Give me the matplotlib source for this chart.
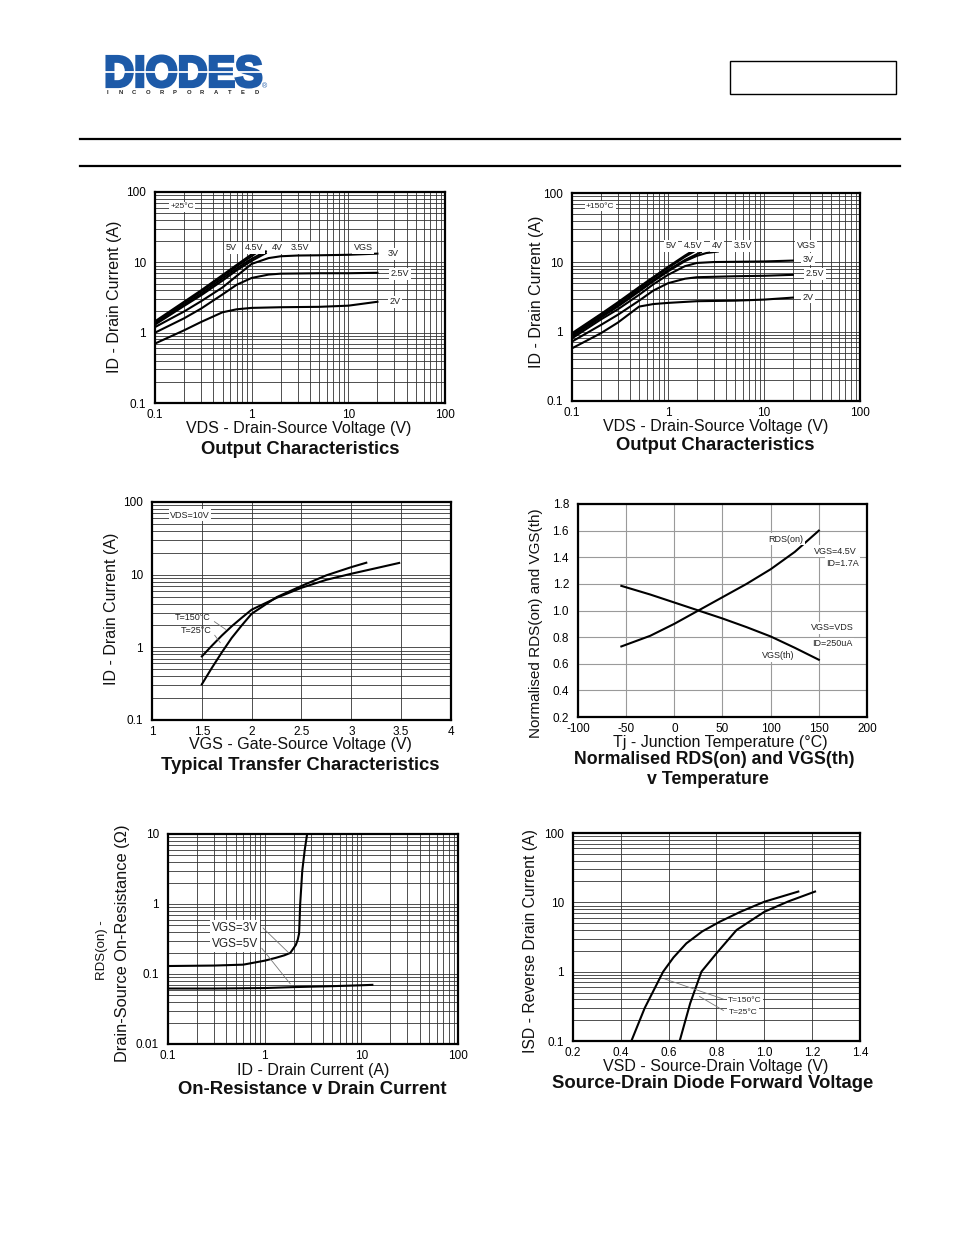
import matplotlib
matplotlib.use('Agg')
import matplotlib.pyplot as plt
import numpy as np
from matplotlib.patches import PathPatch, Rectangle
from matplotlib.textpath import TextPath
from matplotlib.font_manager import FontProperties
from matplotlib.transforms import Affine2D
from matplotlib.ticker import FixedLocator, FixedFormatter, NullFormatter

W, H = 954, 1235
plt.rcParams['font.family'] = ['Liberation Sans', 'DejaVu Sans']

# ---- Output characteristics, +25 C (VDS in V, ID in A) ----
out25_curves = {
    '2V':   ([0.1, 0.2, 0.3, 0.5, 0.7, 1, 2, 5, 10, 20],
             [0.70, 1.08, 1.42, 1.95, 2.15, 2.25, 2.3, 2.33, 2.42, 2.75]),
    '2.5V': ([0.1, 0.2, 0.3, 0.5, 0.7, 1, 1.5, 2, 5, 10, 20],
             [1.0, 1.6, 2.2, 3.5, 4.8, 6.0, 6.7, 6.9, 7.0, 7.0, 7.1]),
    '3V':   ([0.1, 0.2, 0.3, 0.5, 0.7, 1, 1.5, 2, 3, 5, 10, 20],
             [1.2, 2.0, 2.8, 4.4, 6.4, 9.5, 11.5, 12.2, 12.5, 12.6, 12.8, 13.3]),
    '3.5V': ([0.1, 0.2, 0.3, 0.5, 0.7, 1, 1.4],
             [1.3, 2.4, 3.4, 5.5, 7.7, 10.5, 13.5]),
    '4V':   ([0.1, 0.2, 0.3, 0.5, 0.7, 1, 1.4],
             [1.35, 2.5, 3.6, 5.9, 8.2, 11.2, 14.3]),
    '4.5V': ([0.1, 0.2, 0.3, 0.5, 0.7, 1, 1.15],
             [1.4, 2.65, 3.85, 6.3, 8.8, 12.2, 14.0]),
    '5V':   ([0.1, 0.2, 0.3, 0.5, 0.7, 1, 1.1],
             [1.45, 2.75, 4.0, 6.6, 9.2, 13.0, 14.5]),
}

# ---- Output characteristics, +150 C ----
out150_curves = {
    '2V':   ([0.1, 0.2, 0.3, 0.5, 0.7, 1, 2, 5, 10, 20],
             [0.575, 0.95, 1.35, 2.3, 2.5, 2.6, 2.75, 2.8, 2.9, 3.1]),
    '2.5V': ([0.1, 0.2, 0.3, 0.5, 0.7, 1, 1.5, 2, 5, 10, 20],
             [0.72, 1.25, 1.75, 2.8, 3.9, 5.0, 5.8, 6.1, 6.3, 6.4, 6.6]),
    '3V':   ([0.1, 0.2, 0.3, 0.5, 0.7, 1, 1.5, 2, 3, 10, 20],
             [0.8, 1.5, 2.1, 3.4, 4.8, 6.6, 8.8, 9.8, 10.1, 10.3, 10.6]),
    '3.5V': ([0.1, 0.2, 0.3, 0.5, 0.7, 1, 1.5, 2, 2.5, 3.3],
             [0.85, 1.6, 2.3, 3.8, 5.3, 7.4, 10.4, 12.4, 13.6, 14.3]),
    '4V':   ([0.1, 0.2, 0.3, 0.5, 0.7, 1, 1.5, 2.2],
             [0.88, 1.65, 2.4, 3.95, 5.5, 7.7, 10.8, 14.0]),
    '4.5V': ([0.1, 0.2, 0.3, 0.5, 0.7, 1, 1.5, 1.9],
             [0.92, 1.75, 2.55, 4.2, 5.9, 8.3, 12.0, 14.5]),
    '5V':   ([0.1, 0.2, 0.3, 0.5, 0.7, 1, 1.5, 1.8],
             [0.95, 1.8, 2.65, 4.4, 6.1, 8.6, 12.5, 14.6]),
}

# ---- Typical transfer characteristics (VGS in V, ID in A) ----
tr25_vgs = [1.5, 1.6, 1.7, 1.8, 1.9, 2.0, 2.25, 2.5, 2.75, 3.0, 3.15]
tr25_id = [0.31, 0.52, 0.85, 1.35, 2.0, 2.9, 4.9, 7.0, 9.8, 12.7, 14.6]
tr150_vgs = [1.5, 1.6, 1.7, 1.8, 1.9, 2.0, 2.25, 2.5, 2.75, 3.0, 3.25, 3.48]
tr150_id = [0.75, 1.05, 1.45, 1.95, 2.55, 3.3, 4.8, 6.6, 8.5, 10.3, 12.3, 14.5]

# ---- Normalised RDS(on) and VGS(th) vs temperature ----
tj = [-55, -25, 0, 25, 50, 75, 100, 125, 150]
rds_norm = [0.73, 0.81, 0.90, 1.0, 1.10, 1.20, 1.31, 1.44, 1.60]
vth_norm = [1.185, 1.12, 1.06, 1.0, 0.94, 0.875, 0.805, 0.72, 0.63]

# ---- On-resistance vs drain current ----
ron5_id = [0.1, 0.3, 1, 2, 5, 10, 13]
ron5_r = [0.062, 0.062, 0.063, 0.065, 0.067, 0.069, 0.070]
ron3_id = [0.1, 0.3, 0.6, 1.0, 1.3, 1.6, 1.84, 2.1, 2.2, 2.27, 2.3, 2.33, 2.45, 2.6, 2.75]
ron3_r = [0.130, 0.132, 0.136, 0.155, 0.17, 0.185, 0.20, 0.26, 0.31, 0.38, 0.6, 1.0, 3.0, 6.0, 10.0]

# ---- Source-drain diode forward voltage ----
sd150_v = [0.444, 0.5, 0.577, 0.62, 0.674, 0.74, 0.814, 0.9, 1.0, 1.142]
sd150_i = [0.1, 0.3, 1.0, 1.6, 2.56, 3.8, 5.26, 7.3, 10.2, 14.3]
sd25_v = [0.646, 0.69, 0.737, 0.80, 0.884, 1.0, 1.1, 1.212]
sd25_i = [0.1, 0.35, 1.0, 1.84, 3.99, 7.3, 10.3, 14.3]

LOG_TICKS = {0.01: '0.01', 0.1: '0.1', 1: '1', 10: '10', 100: '100'}
LOG_MINOR = [m * 10.0 ** e for e in range(-3, 3) for m in range(2, 10)]

XLAB, TITLE, YLAB = 11.5, 13.3, 11.5


def fx(px):
    return px / W


def fy(py):
    return 1 - py / H


def make_axes(fig, box):
    x0, y0, x1, y1 = box
    ax = fig.add_axes([fx(x0), fy(y1), (x1 - x0) / W, (y1 - y0) / H])
    for s in ax.spines.values():
        s.set_linewidth(1.6)
    ax.tick_params(which='both', length=0, labelsize=8.5)
    ax.tick_params(axis='y', pad=6.5)
    ax.tick_params(axis='x', pad=4)
    return ax


def log_axis(axis, lo, hi):
    major = [v for v in LOG_TICKS if lo <= v <= hi]
    axis.set_major_locator(FixedLocator(major))
    axis.set_major_formatter(FixedFormatter([LOG_TICKS[v] for v in major]))
    axis.set_minor_locator(FixedLocator([v for v in LOG_MINOR if lo < v < hi]))
    axis.set_minor_formatter(NullFormatter())


def lin_axis(axis, ticks, labels):
    axis.set_major_locator(FixedLocator(ticks))
    axis.set_major_formatter(FixedFormatter(labels))


def grid(ax, color='#333333', lw=0.6):
    ax.grid(True, which='both', color=color, linewidth=lw)
    ax.set_axisbelow(True)


def frac(box, px, py):
    x0, y0, x1, y1 = box
    return (px - x0) / (x1 - x0), (y1 - py) / (y1 - y0)


def label(ax, box, px, py, text, size=6.5, ha='center', box_on=True):
    kw = dict(boxstyle='square,pad=0.15', fc='white', ec='none') if box_on else None
    ax.text(*frac(box, px, py), text, transform=ax.transAxes, fontsize=size,
            ha=ha, va='center', color='#222', bbox=kw, zorder=5)


def leader(ax, box, p0, p1):
    ax.annotate('', xy=frac(box, *p1), xytext=frac(box, *p0),
                xycoords='axes fraction', textcoords='axes fraction',
                arrowprops=dict(arrowstyle='-', color='#777', lw=0.6), zorder=4)


def ftext(px, py, text, size=11, weight='normal', rot=0, ha='center'):
    fig.text(fx(px), fy(py), text, fontsize=size, fontweight=weight,
             rotation=rot, ha=ha, va='center', color='#111')


fig = plt.figure(figsize=(W / 100, H / 100), dpi=100)

# ---------------- header ----------------
bg = fig.add_axes([0, 0, 1, 1], zorder=-1)
bg.set_xlim(0, W)
bg.set_ylim(H, 0)
bg.axis('off')

blue = '#1d5aa8'
tp = TextPath((0, 0), 'DIODES', size=1,
              prop=FontProperties(family='Liberation Sans', weight='bold'))
ext = tp.get_extents()
tr = (Affine2D().translate(-ext.x0, -ext.y0)
      .scale(154 / ext.width, -31 / ext.height).translate(107, 87))
bg.add_patch(PathPatch(tr.transform_path(tp), fc=blue, ec=blue, lw=2.2))
bg.plot([104, 264], [72, 72], color='white', lw=1.3)
for i, ch in enumerate('INCORPORATED'):
    bg.text(107 + i * 13.6, 92.5, ch, fontsize=4.2, fontweight='bold',
            ha='center', va='center', color='#222')
bg.text(265, 87, '®', fontsize=5, color=blue, ha='center', va='center')
bg.add_patch(Rectangle((730, 61), 166, 33, fill=False, ec='black', lw=1.0))
bg.plot([80, 900], [139, 139], color='black', lw=1.6)
bg.plot([80, 900], [166, 166], color='black', lw=1.6)

# ---------------- chart 1: output characteristics 25C ----------------
b1 = (155, 192, 445, 403)
ax1 = make_axes(fig, b1)
ax1.set_xscale('log')
ax1.set_yscale('log')
ax1.set_xlim(0.1, 100)
ax1.set_ylim(0.1, 100)
log_axis(ax1.xaxis, 0.1, 100)
log_axis(ax1.yaxis, 0.1, 100)
grid(ax1)
for name, (xs, ys) in out25_curves.items():
    ax1.plot(xs, ys, color='black', lw=1.5)
label(ax1, b1, 182, 207, '+25°C', 6)
for px, py, t in [(231, 248, '5V'), (254, 248, '4.5V'), (277, 248, '4V'),
                  (300, 248, '3.5V'), (363, 248, 'VGS'), (393, 254, '3V'),
                  (400, 274, '2.5V'), (395, 302, '2V')]:
    label(ax1, b1, px, py, t, 6.5)
ftext(299, 429, 'VDS - Drain-Source Voltage (V)', XLAB)
ftext(300, 449, 'Output Characteristics', TITLE, 'bold')
ftext(115, 297, 'ID - Drain Current (A)', YLAB, rot=90)

# ---------------- chart 2: output characteristics 150C ----------------
b2 = (572, 193, 860, 401)
ax2 = make_axes(fig, b2)
ax2.set_xscale('log')
ax2.set_yscale('log')
ax2.set_xlim(0.1, 100)
ax2.set_ylim(0.1, 100)
log_axis(ax2.xaxis, 0.1, 100)
log_axis(ax2.yaxis, 0.1, 100)
grid(ax2)
for name, (xs, ys) in out150_curves.items():
    ax2.plot(xs, ys, color='black', lw=1.5)
label(ax2, b2, 600, 206, '+150°C', 6)
for px, py, t in [(671, 246, '5V'), (693, 246, '4.5V'), (717, 246, '4V'),
                  (743, 246, '3.5V'), (806, 246, 'VGS'), (808, 259, '3V'),
                  (815, 274, '2.5V'), (808, 297, '2V')]:
    label(ax2, b2, px, py, t, 6.5)
ftext(716, 427, 'VDS - Drain-Source Voltage (V)', XLAB)
ftext(715, 446, 'Output Characteristics', TITLE, 'bold')
ftext(537, 292, 'ID - Drain Current (A)', YLAB, rot=90)

# ---------------- chart 3: transfer characteristics ----------------
b3 = (152, 502, 451, 720)
ax3 = make_axes(fig, b3)
ax3.set_yscale('log')
ax3.set_xlim(1, 4)
ax3.set_ylim(0.1, 100)
lin_axis(ax3.xaxis, [1, 1.5, 2, 2.5, 3, 3.5, 4], ['1', '1.5', '2', '2.5', '3', '3.5', '4'])
log_axis(ax3.yaxis, 0.1, 100)
grid(ax3)
ax3.plot(tr25_vgs, tr25_id, color='black', lw=1.5)
ax3.plot(tr150_vgs, tr150_id, color='black', lw=1.5)
label(ax3, b3, 190, 515, 'VDS=10V', 6.5)
label(ax3, b3, 193, 618, 'T=150°C', 6.5, box_on=False)
label(ax3, b3, 196, 631, 'T=25°C', 6.5, box_on=False)
leader(ax3, b3, (212, 620), (228, 631))
leader(ax3, b3, (213, 633), (222, 645))
ftext(300, 745, 'VGS - Gate-Source Voltage (V)', XLAB)
ftext(300, 766, 'Typical Transfer Characteristics', TITLE, 'bold')
ftext(112, 609, 'ID - Drain Current (A)', YLAB, rot=90)

# ---------------- chart 4: normalised vs temperature ----------------
b4 = (578, 504, 867, 717)
ax4 = make_axes(fig, b4)
ax4.set_xlim(-100, 200)
ax4.set_ylim(0.2, 1.8)
lin_axis(ax4.xaxis, [-100, -50, 0, 50, 100, 150, 200],
         ['-100', '-50', '0', '50', '100', '150', '200'])
lin_axis(ax4.yaxis, [0.2, 0.4, 0.6, 0.8, 1.0, 1.2, 1.4, 1.6, 1.8],
         ['0.2', '0.4', '0.6', '0.8', '1.0', '1.2', '1.4', '1.6', '1.8'])
ax4.grid(True, color='#9a9a9a', linewidth=0.8)
ax4.set_axisbelow(True)
ax4.plot(tj, rds_norm, color='black', lw=1.5)
ax4.plot(tj, vth_norm, color='black', lw=1.5)
label(ax4, b4, 786, 539, 'RDS(on)', 6.5)
label(ax4, b4, 857, 551, 'VGS=4.5V', 6.5, ha='right')
label(ax4, b4, 859, 563, 'ID=1.7A', 6.5, ha='right')
label(ax4, b4, 832, 628, 'VGS=VDS', 6.5)
label(ax4, b4, 832, 644, 'ID=250uA', 6.5)
label(ax4, b4, 778, 656, 'VGS(th)', 6.5)
ftext(720, 742, 'Tj - Junction Temperature (°C)', XLAB)
ftext(714, 760, 'Normalised RDS(on) and VGS(th)', 12.8, 'bold')
ftext(708, 779, 'v Temperature', 12.8, 'bold')
ftext(536, 623, 'Normalised RDS(on) and VGS(th)', 11, rot=90)

# ---------------- chart 5: on-resistance vs drain current ----------------
b5 = (168, 834, 458, 1044)
ax5 = make_axes(fig, b5)
ax5.set_xscale('log')
ax5.set_yscale('log')
ax5.set_xlim(0.1, 100)
ax5.set_ylim(0.01, 10)
log_axis(ax5.xaxis, 0.1, 100)
log_axis(ax5.yaxis, 0.01, 10)
grid(ax5)
ax5.plot(ron3_id, ron3_r, color='black', lw=1.5)
ax5.plot(ron5_id, ron5_r, color='black', lw=1.5)
label(ax5, b5, 235, 928, 'VGS=3V', 8.5)
label(ax5, b5, 235, 944, 'VGS=5V', 8.5)
leader(ax5, b5, (261, 926), (291, 955))
leader(ax5, b5, (260, 946), (292, 986))
ftext(313, 1070, 'ID - Drain Current (A)', XLAB)
ftext(312, 1090, 'On-Resistance v Drain Current', TITLE, 'bold')
ftext(102, 950, 'RDS(on) -', 9.5, rot=90)
ftext(122, 943, 'Drain-Source On-Resistance (Ω)', 11.8, rot=90)

# ---------------- chart 6: source-drain diode ----------------
b6 = (573, 833, 860, 1041)
ax6 = make_axes(fig, b6)
ax6.set_yscale('log')
ax6.set_xlim(0.2, 1.4)
ax6.set_ylim(0.1, 100)
lin_axis(ax6.xaxis, [0.2, 0.4, 0.6, 0.8, 1.0, 1.2, 1.4],
         ['0.2', '0.4', '0.6', '0.8', '1.0', '1.2', '1.4'])
log_axis(ax6.yaxis, 0.1, 100)
grid(ax6)
ax6.plot(sd150_v, sd150_i, color='black', lw=1.5)
ax6.plot(sd25_v, sd25_i, color='black', lw=1.5)
label(ax6, b6, 745, 1000, 'T=150°C', 6)
label(ax6, b6, 743, 1012, 'T=25°C', 6)
leader(ax6, b6, (726, 1000), (662, 978))
leader(ax6, b6, (726, 1012), (697, 995))
ftext(716, 1067, 'VSD - Source-Drain Voltage (V)', XLAB)
ftext(713, 1084, 'Source-Drain Diode Forward Voltage', TITLE, 'bold')
ftext(531, 941, 'ISD - Reverse Drain Current (A)', 11.3, rot=90)

fig.savefig('out.png', dpi=100, facecolor='white')
